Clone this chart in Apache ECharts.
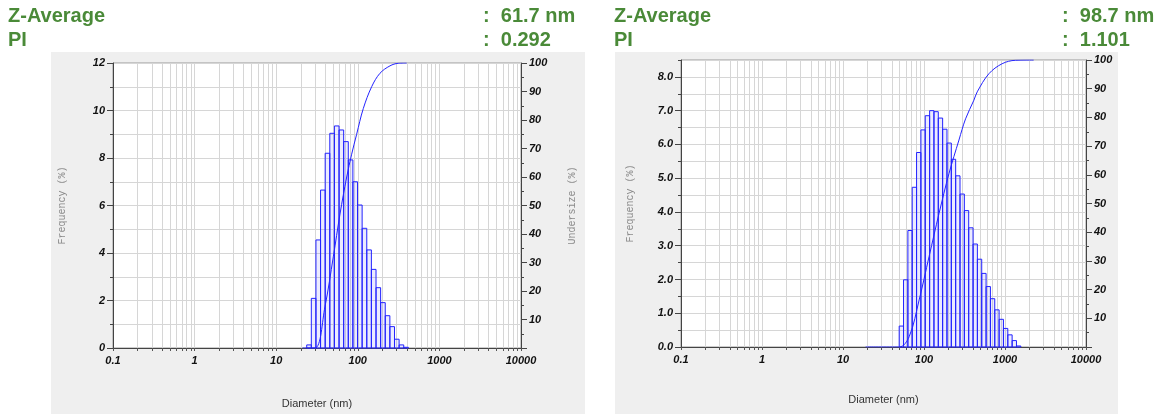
<!DOCTYPE html>
<html>
<head>
<meta charset="utf-8">
<script src="https://cdn.jsdelivr.net/npm/echarts@6/dist/echarts.min.js"></script>
<style>
  html, body { margin: 0; padding: 0; background: #fff; }
  #chart { width: 1169px; height: 414px; }
</style>
</head>
<body>
<div id="chart"></div>
<script>
// summary values shown above each plot
const zAverage = ['61.7 nm', '98.7 nm']
const polyIndex = ['0.292', '1.101']

// size class edges (nm) and frequency (%) per class
const leftBinEdges = [23.65, 26.94, 30.69, 34.96, 39.83, 45.38, 51.70, 58.90, 67.11, 76.45, 87.10, 99.22,
  113.0, 128.8, 146.7, 167.2, 190.4, 216.9, 247.2, 281.6, 320.8, 365.5, 416.4]
const leftFrequency = [0.13, 2.09, 4.55, 6.65, 8.2, 9.04, 9.35, 9.18, 8.69, 7.92, 7.0, 6.02,
  5.04, 4.13, 3.31, 2.54, 1.91, 1.36, 0.90, 0.37, 0.13, 0.03]
const leftUndersize = [[21, 0], [29.9, 0], [39.6, 14.5], [50.1, 32], [60.5, 47], [73.1, 60], [84.1, 68],
  [96.8, 75], [116.7, 84], [148, 91.7], [187, 96.4], [248, 99], [313, 99.9], [397, 100]]

const rightBinEdges = [49.40, 55.88, 63.24, 71.54, 80.97, 91.60, 103.6, 117.3, 132.7, 150.1, 169.8, 192.2,
  217.4, 246.0, 278.3, 314.9, 356.3, 403.2, 456.1, 516.0, 584.0, 660.7, 747.5, 845.8, 957.0, 1083,
  1225, 1386, 1568]
const rightFrequency = [0.62, 1.99, 3.45, 4.73, 5.76, 6.43, 6.85, 7.0, 6.97, 6.78, 6.45, 6.04, 5.56,
  5.07, 4.53, 4.04, 3.53, 3.05, 2.6, 2.18, 1.79, 1.43, 1.10, 0.82, 0.55, 0.36, 0.19, 0.03]
const rightUndersize = [[19, 0], [49.4, 0], [65.6, 3.6], [87.1, 16.4], [115.5, 31.5], [153.5, 46.6],
  [203.7, 60.5], [270, 72.1], [326, 79.5], [413, 86], [454, 88.9], [632, 95.2], [921, 98.7],
  [1346, 99.9], [2259, 100]]

// axis ticks
const diameterTicks = [0.1, 0.2, 0.3, 0.4, 0.5, 0.6, 0.7, 0.8, 0.9, 1, 2, 3, 4, 5, 6, 7, 8, 9,
  10, 20, 30, 40, 50, 60, 70, 80, 90, 100, 200, 300, 400, 500, 600, 700, 800, 900,
  1000, 2000, 3000, 4000, 5000, 6000, 7000, 8000, 9000, 10000]
const diameterLabels = [0.1, 1, 10, 100, 1000, 10000]
const rightFreqLabels = [0, 1, 2, 3, 4, 5, 6, 7, 8]
const rightFreqMinor = [0, 0.5, 1, 1.5, 2, 2.5, 3, 3.5, 4, 4.5, 5, 5.5, 6, 6.5, 7, 7.5, 8, 8.5]

const GREEN = '#4a8a38'
const BLUE = '#2323ff'
const GRID_LINE = '#d6d6d6'
const tickFont = { fontFamily: 'Liberation Sans', fontSize: 11, fontWeight: 'bold', fontStyle: 'italic', color: '#111' }
const monoName = { fontFamily: 'Liberation Mono', fontSize: 10, color: '#8a8a8a' }

function diameterAxis(gridIndex, nameGap) {
  return {
    type: 'log',
    logBase: 10,
    gridIndex,
    min: 0.1,
    max: 10000,
    axisLine: { show: true, onZero: false, lineStyle: { color: '#444', width: 1 } },
    axisTick: { show: true, customValues: diameterTicks, length: 3, lineStyle: { color: '#555' } },
    axisLabel: { ...tickFont, customValues: diameterLabels, margin: 7, formatter: (v) => String(+(+v).toPrecision(3)) },
    splitLine: { show: true, lineStyle: { color: GRID_LINE, width: 1 } },
    name: 'Diameter (nm)',
    nameLocation: 'middle',
    nameGap,
    nameTextStyle: { fontFamily: 'Liberation Sans', fontSize: 11, color: '#333' },
  }
}

function undersizeAxis(gridIndex, named) {
  return {
    type: 'value',
    gridIndex,
    position: 'right',
    min: 0,
    max: 100,
    interval: 10,
    axisLine: { show: true, lineStyle: { color: '#444' } },
    axisTick: { show: true, length: 6, lineStyle: { color: '#444' } },
    minorTick: { show: true, splitNumber: 2, length: 3, lineStyle: { color: '#444' } },
    axisLabel: { ...tickFont, margin: 8, formatter: (v) => (v === 0 ? '' : String(v)) },
    splitLine: { show: false },
    name: named ? 'Undersize (%)' : '',
    nameLocation: 'middle',
    nameRotate: 90,
    nameGap: 46,
    nameTextStyle: monoName,
  }
}

function histogram(edges, freq, xi, yi) {
  return {
    type: 'custom',
    xAxisIndex: xi,
    yAxisIndex: yi,
    data: freq.map((v, i) => [edges[i], edges[i + 1], v]),
    encode: { x: [0, 1], y: 2 },
    renderItem(params, api) {
      const base = api.coord([api.value(0), 0])
      const top = api.coord([api.value(1), api.value(2)])
      return {
        type: 'rect',
        shape: { x: base[0], y: top[1], width: top[0] - base[0], height: base[1] - top[1] },
        style: { fill: 'rgba(60,60,255,0.10)', stroke: BLUE, lineWidth: 1 },
      }
    },
  }
}

function undersizeLine(points, xi, yi) {
  return {
    type: 'line',
    xAxisIndex: xi,
    yAxisIndex: yi,
    data: points,
    smooth: 0.35,
    showSymbol: false,
    lineStyle: { color: BLUE, width: 1 },
    z: 3,
  }
}

function headerText(x, y, text) {
  return { type: 'text', x, y, style: { text, font: 'bold 20px "Liberation Sans"', fill: GREEN, textVerticalAlign: 'middle' } }
}

const chart = echarts.init(document.getElementById('chart'), null, { renderer: 'canvas' })

chart.setOption({
  animation: false,
  graphic: [
    { type: 'rect', z: -100, shape: { x: 51, y: 52, width: 534, height: 362 }, style: { fill: '#efefef' } },
    { type: 'rect', z: -100, shape: { x: 615, y: 52, width: 503, height: 362 }, style: { fill: '#efefef' } },
    headerText(8, 16, 'Z-Average'),
    headerText(8, 40, 'PI'),
    headerText(483, 16, ':  ' + zAverage[0]),
    headerText(483, 40, ':  ' + polyIndex[0]),
    headerText(614, 16, 'Z-Average'),
    headerText(614, 40, 'PI'),
    headerText(1062, 16, ':  ' + zAverage[1]),
    headerText(1062, 40, ':  ' + polyIndex[1]),
  ],
  grid: [
    { left: 113, top: 63, width: 408, height: 285, show: true, backgroundColor: '#fff', borderColor: '#999', borderWidth: 1 },
    { left: 681, top: 60, width: 405, height: 287, show: true, backgroundColor: '#fff', borderColor: '#999', borderWidth: 1 },
  ],
  xAxis: [diameterAxis(0, 50), diameterAxis(1, 47)],
  yAxis: [
    {
      type: 'value',
      gridIndex: 0,
      position: 'left',
      min: 0,
      max: 12,
      interval: 2,
      axisLine: { show: true, lineStyle: { color: '#444' } },
      axisTick: { show: true, length: 6, lineStyle: { color: '#444' } },
      minorTick: { show: true, splitNumber: 2, length: 3, lineStyle: { color: '#444' } },
      axisLabel: { ...tickFont, margin: 8 },
      splitLine: { show: true, lineStyle: { color: GRID_LINE } },
      minorSplitLine: { show: true, lineStyle: { color: GRID_LINE } },
      name: 'Frequency (%)',
      nameLocation: 'middle',
      nameRotate: 90,
      nameGap: 46,
      nameTextStyle: monoName,
    },
    undersizeAxis(0, true),
    {
      type: 'value',
      gridIndex: 1,
      position: 'left',
      min: 0,
      max: 8.5,
      interval: 0.5,
      axisLine: { show: true, lineStyle: { color: '#444' } },
      axisTick: { show: true, customValues: rightFreqMinor, length: 3, lineStyle: { color: '#444' } },
      axisLabel: { ...tickFont, customValues: rightFreqLabels, margin: 8, formatter: (v) => (+v).toFixed(1) },
      splitLine: { show: true, lineStyle: { color: GRID_LINE } },
      name: 'Frequency (%)',
      nameLocation: 'middle',
      nameRotate: 90,
      nameGap: 46,
      nameTextStyle: monoName,
    },
    undersizeAxis(1, false),
    {
      // longer ticks at the labelled values
      type: 'value',
      gridIndex: 1,
      position: 'left',
      offset: 0,
      min: 0,
      max: 8.5,
      axisLine: { show: false },
      axisTick: { show: true, customValues: rightFreqLabels, length: 6, lineStyle: { color: '#444' } },
      axisLabel: { show: false },
      splitLine: { show: false },
    },
  ],
  series: [
    histogram(leftBinEdges, leftFrequency, 0, 0),
    undersizeLine(leftUndersize, 0, 1),
    histogram(rightBinEdges, rightFrequency, 1, 2),
    undersizeLine(rightUndersize, 1, 3),
  ],
})

window.addEventListener('resize', () => chart.resize())
</script>
</body>
</html>
